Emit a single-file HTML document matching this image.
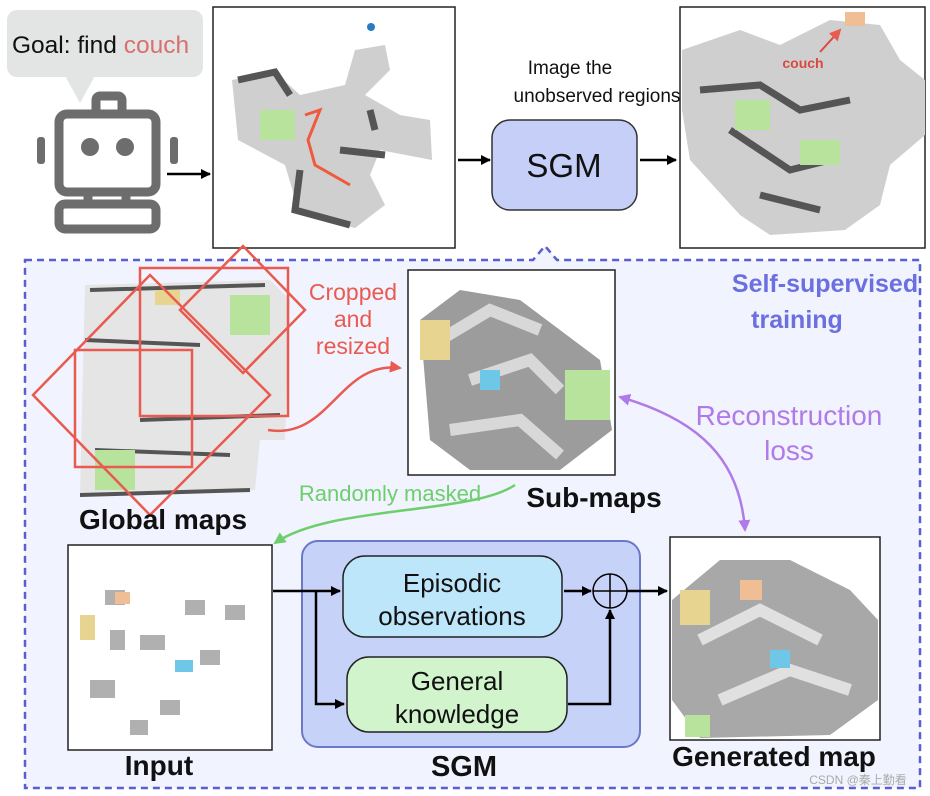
<!DOCTYPE html>
<html><head><meta charset="utf-8"><style>
html,body{margin:0;padding:0;background:#fff;width:930px;height:796px;overflow:hidden}
svg{display:block;font-family:"Liberation Sans","Noto Sans CJK SC",sans-serif}
</style></head><body>
<svg width="930" height="796" viewBox="0 0 930 796" xmlns="http://www.w3.org/2000/svg">
<defs>
<marker id="ab" markerWidth="10" markerHeight="10" refX="9" refY="5" orient="auto" markerUnits="userSpaceOnUse"><path d="M0,0 L10,5 L0,10 z" fill="#000"/></marker>
<marker id="ar" markerWidth="12" markerHeight="12" refX="10" refY="6" orient="auto" markerUnits="userSpaceOnUse"><path d="M0,0 L12,6 L0,12 z" fill="#e95a50"/></marker>
<marker id="ag" markerWidth="12" markerHeight="12" refX="10" refY="6" orient="auto" markerUnits="userSpaceOnUse"><path d="M0,0 L12,6 L0,12 z" fill="#6ccf6c"/></marker>
<marker id="ap" markerWidth="12" markerHeight="12" refX="10" refY="6" orient="auto-start-reverse" markerUnits="userSpaceOnUse"><path d="M0,0 L12,6 L0,12 z" fill="#b07ae8"/></marker>
</defs>

<path d="M25,260 H533 L545,246 L557,260 H920 V788 H25 Z" fill="#f1f3fe" stroke="#5a5fd0" stroke-width="2.5" stroke-dasharray="7,5"/>

<rect x="7" y="10" width="196" height="67" rx="10" fill="#e3e4e4"/>
<path d="M65,76 L80,103 L95,76 z" fill="#e3e4e4"/>
<text x="12" y="53" font-size="24.5" fill="#111">Goal: find <tspan fill="#d87070">couch</tspan></text>

<g fill="none" stroke="#6d6d6d" stroke-width="9">
<rect x="59" y="114" width="97" height="78" rx="8"/>
<rect x="96" y="96" width="26" height="18" rx="4"/>
<rect x="59" y="204" width="97" height="25" rx="6"/>
<path d="M88,192 V204 M126,192 V204"/>
</g>
<rect x="37" y="137" width="8" height="27" rx="3" fill="#6d6d6d"/>
<rect x="170" y="137" width="8" height="27" rx="3" fill="#6d6d6d"/>
<circle cx="90" cy="147" r="9" fill="#6d6d6d"/><circle cx="125" cy="147" r="9" fill="#6d6d6d"/>
<line x1="167" y1="174" x2="210" y2="174" stroke="#000" stroke-width="2.5" marker-end="url(#ab)"/>

<rect x="213" y="7" width="242" height="241" fill="#fff" stroke="#222" stroke-width="1.5"/>
<circle cx="371" cy="27" r="4" fill="#2a7bc4"/>
<path d="M232,80 L275,72 L300,95 L345,85 L355,50 L385,45 L390,70 L365,95 L400,115 L430,120 L432,160 L380,150 L370,175 L385,205 L355,228 L300,215 L285,165 L238,140 Z" fill="#cfcfcf"/>
<path d="M238,80 L275,72 L290,95 M300,170 L295,210 L350,225 M340,150 L385,155 M370,110 L375,130" fill="none" stroke="#555" stroke-width="7"/>
<rect x="260" y="110" width="35" height="30" fill="#b8e39c"/>
<path d="M305,115 L320,110 L308,140 L315,165 L350,185" fill="none" stroke="#f05a3c" stroke-width="3"/>

<text x="570" y="74" font-size="19" text-anchor="middle" fill="#111">Image the</text>
<text x="597" y="102" font-size="19" text-anchor="middle" fill="#111">unobserved regions</text>
<line x1="458" y1="160" x2="490" y2="160" stroke="#000" stroke-width="2.5" marker-end="url(#ab)"/>
<rect x="492" y="120" width="145" height="90" rx="18" fill="#c5cff7" stroke="#333" stroke-width="1.5"/>
<text x="564" y="177" font-size="33" text-anchor="middle" fill="#111">SGM</text>
<line x1="640" y1="160" x2="676" y2="160" stroke="#000" stroke-width="2.5" marker-end="url(#ab)"/>

<rect x="680" y="7" width="245" height="241" fill="#fff" stroke="#222" stroke-width="1.5"/>
<path d="M682,50 L740,30 L780,45 L830,20 L880,25 L900,60 L925,80 L925,135 L890,165 L880,205 L845,230 L770,235 L740,215 L690,160 L682,110 Z" fill="#cfcfcf"/>
<path d="M700,90 L760,85 L800,110 L850,100 M730,130 L790,170 L830,160 M760,195 L820,210" fill="none" stroke="#555" stroke-width="7"/>
<rect x="735" y="100" width="35" height="30" fill="#b8e39c"/>
<rect x="800" y="140" width="40" height="25" fill="#b8e39c"/>
<rect x="845" y="12" width="20" height="14" fill="#efbe95"/>
<text x="803" y="68" font-size="14" font-weight="bold" fill="#d84a40" text-anchor="middle">couch</text>
<line x1="820" y1="52" x2="840" y2="30" stroke="#d84a40" stroke-width="2" marker-end="url(#ar)"/>

<path d="M85,285 L270,280 L290,300 L285,440 L260,440 L255,490 L80,495 Z" fill="#e5e5e5"/>
<path d="M90,290 L265,285 M85,340 L200,345 M140,420 L280,415 M95,450 L230,455 M80,495 L250,490" fill="none" stroke="#555" stroke-width="4"/>
<rect x="230" y="295" width="40" height="40" fill="#b8e39c"/><rect x="95" y="450" width="40" height="40" fill="#b8e39c"/>
<rect x="155" y="290" width="25" height="15" fill="#e8d491"/>
<g fill="none" stroke="#e95a50" stroke-width="2.5">
<rect x="75" y="350" width="117" height="117"/>
<rect x="140" y="268" width="148" height="148"/>
<path d="M33,395 L150,275 L270,395 L150,515 Z"/>
<path d="M180,310 L243,246 L305,310 L243,373 Z"/>
</g>
<text x="163" y="529" font-size="28" font-weight="bold" text-anchor="middle" fill="#111">Global maps</text>

<text x="353" y="300" font-size="23" text-anchor="middle" fill="#e95a50">Cropped</text>
<text x="353" y="327" font-size="23" text-anchor="middle" fill="#e95a50">and</text>
<text x="353" y="354" font-size="23" text-anchor="middle" fill="#e95a50">resized</text>
<path d="M268,430 C330,440 340,360 400,368" fill="none" stroke="#e95a50" stroke-width="2.5" marker-end="url(#ar)"/>

<rect x="408" y="270" width="207" height="205" fill="#fff" stroke="#222" stroke-width="1.5"/>
<path d="M420,320 L460,290 L520,300 L560,330 L600,360 L612,430 L560,470 L470,470 L430,440 Z" fill="#9c9c9c"/>
<path d="M440,340 L490,310 L540,330 M470,380 L530,360 L560,390 M450,430 L520,420 L560,455" fill="none" stroke="#d8d8d8" stroke-width="12"/>
<rect x="565" y="370" width="45" height="50" fill="#b8e39c"/>
<rect x="420" y="320" width="30" height="40" fill="#e8d491"/>
<rect x="480" y="370" width="20" height="20" fill="#6ec7e6"/>
<text x="594" y="507" font-size="28" font-weight="bold" text-anchor="middle" fill="#111">Sub-maps</text>

<text x="825" y="292" font-size="25" font-weight="bold" text-anchor="middle" fill="#6b6fe0">Self-supervised</text>
<text x="797" y="328" font-size="25" font-weight="bold" text-anchor="middle" fill="#6b6fe0">training</text>
<text x="789" y="425" font-size="28" text-anchor="middle" fill="#b07ae8">Reconstruction</text>
<text x="789" y="460" font-size="28" text-anchor="middle" fill="#b07ae8">loss</text>
<path d="M620,397 C700,420 740,460 745,530" fill="none" stroke="#b07ae8" stroke-width="2.5" marker-start="url(#ap)" marker-end="url(#ap)"/>

<text x="390" y="501" font-size="22" text-anchor="middle" fill="#6ccf6c">Randomly masked</text>
<path d="M515,485 C470,515 330,505 275,543" fill="none" stroke="#6ccf6c" stroke-width="2.5" marker-end="url(#ag)"/>

<rect x="68" y="545" width="204" height="205" fill="#fff" stroke="#222" stroke-width="1.5"/>
<g fill="#b0b0b0">
<rect x="105" y="590" width="20" height="15"/><rect x="140" y="635" width="25" height="15"/><rect x="185" y="600" width="20" height="15"/>
<rect x="110" y="630" width="15" height="20"/><rect x="200" y="650" width="20" height="15"/><rect x="90" y="680" width="25" height="18"/>
<rect x="160" y="700" width="20" height="15"/><rect x="225" y="605" width="20" height="15"/><rect x="130" y="720" width="18" height="15"/>
</g>
<rect x="80" y="615" width="15" height="25" fill="#e8d491"/><rect x="115" y="592" width="15" height="12" fill="#efbe95"/>
<rect x="175" y="660" width="18" height="12" fill="#6ec7e6"/>
<text x="159" y="775" font-size="28" font-weight="bold" text-anchor="middle" fill="#111">Input</text>

<rect x="302" y="541" width="338" height="206" rx="16" fill="#c7d2f8" stroke="#6b78c8" stroke-width="2"/>
<rect x="343" y="556" width="219" height="81" rx="22" fill="#bde6fb" stroke="#222" stroke-width="1.5"/>
<text x="452" y="592" font-size="26" text-anchor="middle" fill="#111">Episodic</text>
<text x="452" y="625" font-size="26" text-anchor="middle" fill="#111">observations</text>
<rect x="347" y="657" width="220" height="75" rx="22" fill="#d2f4cc" stroke="#222" stroke-width="1.5"/>
<text x="457" y="690" font-size="26" text-anchor="middle" fill="#111">General</text>
<text x="457" y="723" font-size="26" text-anchor="middle" fill="#111">knowledge</text>
<text x="464" y="776" font-size="29" font-weight="bold" text-anchor="middle" fill="#111">SGM</text>
<line x1="273" y1="591" x2="340" y2="591" stroke="#000" stroke-width="2.5" marker-end="url(#ab)"/>
<path d="M316,591 V704 H344" fill="none" stroke="#000" stroke-width="2.5" marker-end="url(#ab)"/>
<line x1="564" y1="591" x2="591" y2="591" stroke="#000" stroke-width="2.5" marker-end="url(#ab)"/>
<path d="M568,704 H610 V610" fill="none" stroke="#000" stroke-width="2.5" marker-end="url(#ab)"/>
<circle cx="610" cy="591" r="17" fill="none" stroke="#000" stroke-width="1.5"/>
<path d="M593,591 H627 M610,574 V608" stroke="#000" stroke-width="1.5"/>
<line x1="627" y1="591" x2="667" y2="591" stroke="#000" stroke-width="2.5" marker-end="url(#ab)"/>

<rect x="670" y="537" width="210" height="203" fill="#fff" stroke="#222" stroke-width="1.5"/>
<path d="M672,600 L720,560 L790,560 L850,590 L878,620 L878,700 L830,735 L700,738 L672,700 Z" fill="#a8a8a8"/>
<path d="M700,640 L760,610 L820,640 M720,700 L790,670 L850,690" fill="none" stroke="#e0e0e0" stroke-width="12"/>
<rect x="680" y="590" width="30" height="35" fill="#e8d491"/><rect x="685" y="715" width="25" height="22" fill="#b8e39c"/>
<rect x="770" y="650" width="20" height="18" fill="#6ec7e6"/><rect x="740" y="580" width="22" height="20" fill="#efbe95"/>
<text x="774" y="766" font-size="28" font-weight="bold" text-anchor="middle" fill="#111">Generated map</text>

<text x="858" y="784" font-size="12" text-anchor="middle" fill="#aaa">CSDN @秦上勤看</text>
</svg>
</body></html>
